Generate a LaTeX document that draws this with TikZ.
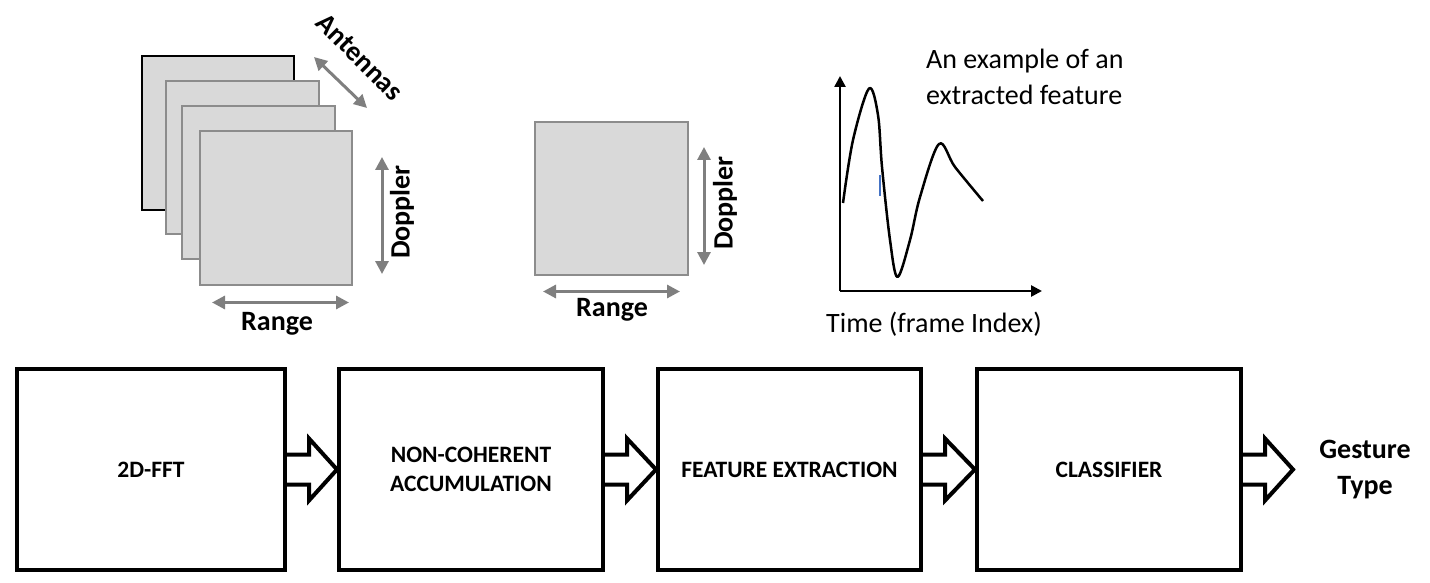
\documentclass[tikz,border=0pt]{standalone}
\usepackage{fontspec}
\setmainfont{Carlito}
\usetikzlibrary{arrows.meta,calc}
\definecolor{panel}{HTML}{D9D9D9}
\definecolor{edgegray}{HTML}{8C8C8C}
\definecolor{arrgray}{HTML}{7F7F7F}
\definecolor{tickblue}{HTML}{4472C4}
\tikzset{
  stagebox/.style={draw=black,line width=4pt,fill=white,minimum height=201pt,inner sep=0pt,
    font=\bfseries\fontsize{23.5}{29}\selectfont,align=center},
  blockarr/.style={draw=black,line width=4pt,line join=miter,fill=white},
  panelrect/.style={fill=panel,draw=edgegray,line width=1.2pt},
  dimarr/.style={draw=arrgray,line width=3pt,{Triangle[length=13pt,width=13pt]}-{Triangle[length=13pt,width=13pt]}},
  axisarr/.style={draw=black,line width=2.5pt,-{Triangle[length=11pt,width=11pt]}},
  blabel/.style={font=\bfseries\fontsize{28}{33}\selectfont,inner sep=0pt},
  rlabel/.style={font=\fontsize{28}{36}\selectfont,inner sep=0pt}
}
\begin{document}
\begin{tikzpicture}[x=1pt,y=-1pt]
\useasboundingbox (0,0) rectangle (1430,583);

% ---- stacked range-doppler maps ----
\draw[fill=panel,draw=black,line width=1.2pt] (142,56) rectangle (294,210);
\draw[panelrect] (166,81) rectangle (319,234);
\draw[panelrect] (182,106) rectangle (335,259);
\draw[panelrect] (200,131) rectangle (352,285);
\coordinate (antA) at (314,57);
\coordinate (antB) at (367,108);
\draw[dimarr] (antA) -- (antB);
\node[blabel,rotate=-45] (antlab) at (360,57) {Antennas};
\coordinate (dopA) at (382,157);
\coordinate (dopB) at (382,274);
\draw[dimarr] (dopA) -- (dopB);
\node[blabel,rotate=90] (doplab1) at (402,212) {Doppler};
\coordinate (rngA) at (212,302.5);
\coordinate (rngB) at (349,302.5);
\draw[dimarr] (rngA) -- (rngB);
\node[blabel] (rnglab1) at (277,324) {Range};

% ---- accumulated map ----
\draw[panelrect] (535,122) rectangle (688,275);
\coordinate (dop2A) at (704,147);
\coordinate (dop2B) at (704,265);
\draw[dimarr] (dop2A) -- (dop2B);
\node[blabel,rotate=90] (doplab2) at (725,203) {Doppler};
\coordinate (rng2A) at (543,291.5);
\coordinate (rng2B) at (680,291.5);
\draw[dimarr] (rng2A) -- (rng2B);
\node[blabel] (rnglab2) at (612,310) {Range};

% ---- feature plot ----
\coordinate (org) at (840,291);
\coordinate (ytip) at (840,76);
\coordinate (xtip) at (1042,291);
\draw[axisarr] (org) -- (ytip);
\draw[axisarr] (org) -- (xtip);
\draw[line width=2.5pt,line join=round] plot[smooth,tension=0.55] coordinates
  {(843,203) (853,140) (869,88.5) (878,115) (882,167) (890,240) (897.5,277) (910,240) (920,197) (939,144) (955,167) (983,201)};
\draw[tickblue,line width=2pt] (880,175) -- (880,196);
\node[rlabel,anchor=west,align=left] (exlab) at (926,77) {An example of an\\extracted feature};
\node[rlabel] (timelab) at (934,324) {Time (frame Index)};

% ---- processing chain ----
\node[stagebox,minimum width=268pt] (b1) at (151,469.5) {2D-FFT};
\node[stagebox,minimum width=264pt] (b2) at (471,469.5) {NON-COHERENT\\ACCUMULATION};
\node[stagebox,minimum width=263pt] (b3) at (789.5,469.5) {FEATURE EXTRACTION};
\node[stagebox,minimum width=264pt] (b4) at (1109,469.5) {CLASSIFIER};
\coordinate (outtip) at (1293,469.5);
\node[font=\bfseries\fontsize{28}{36}\selectfont,align=center,inner sep=0pt] (out) at (1365,470) {Gesture\\Type};

\draw[blockarr] ($(b1.east)+(0,-15)$) -- ++(22,0) -- ++(0,-16) -- (b2.west) -- ($(b1.east)+(22,31)$) -- ++(0,-16) -- ($(b1.east)+(0,15)$);
\draw[blockarr] ($(b2.east)+(0,-15)$) -- ++(22,0) -- ++(0,-16) -- (b3.west) -- ($(b2.east)+(22,31)$) -- ++(0,-16) -- ($(b2.east)+(0,15)$);
\draw[blockarr] ($(b3.east)+(0,-15)$) -- ++(22,0) -- ++(0,-16) -- (b4.west) -- ($(b3.east)+(22,31)$) -- ++(0,-16) -- ($(b3.east)+(0,15)$);
\draw[blockarr] ($(b4.east)+(0,-15)$) -- ++(22,0) -- ++(0,-16) -- (outtip) -- ($(b4.east)+(22,31)$) -- ++(0,-16) -- ($(b4.east)+(0,15)$);
\end{tikzpicture}
\end{document}
